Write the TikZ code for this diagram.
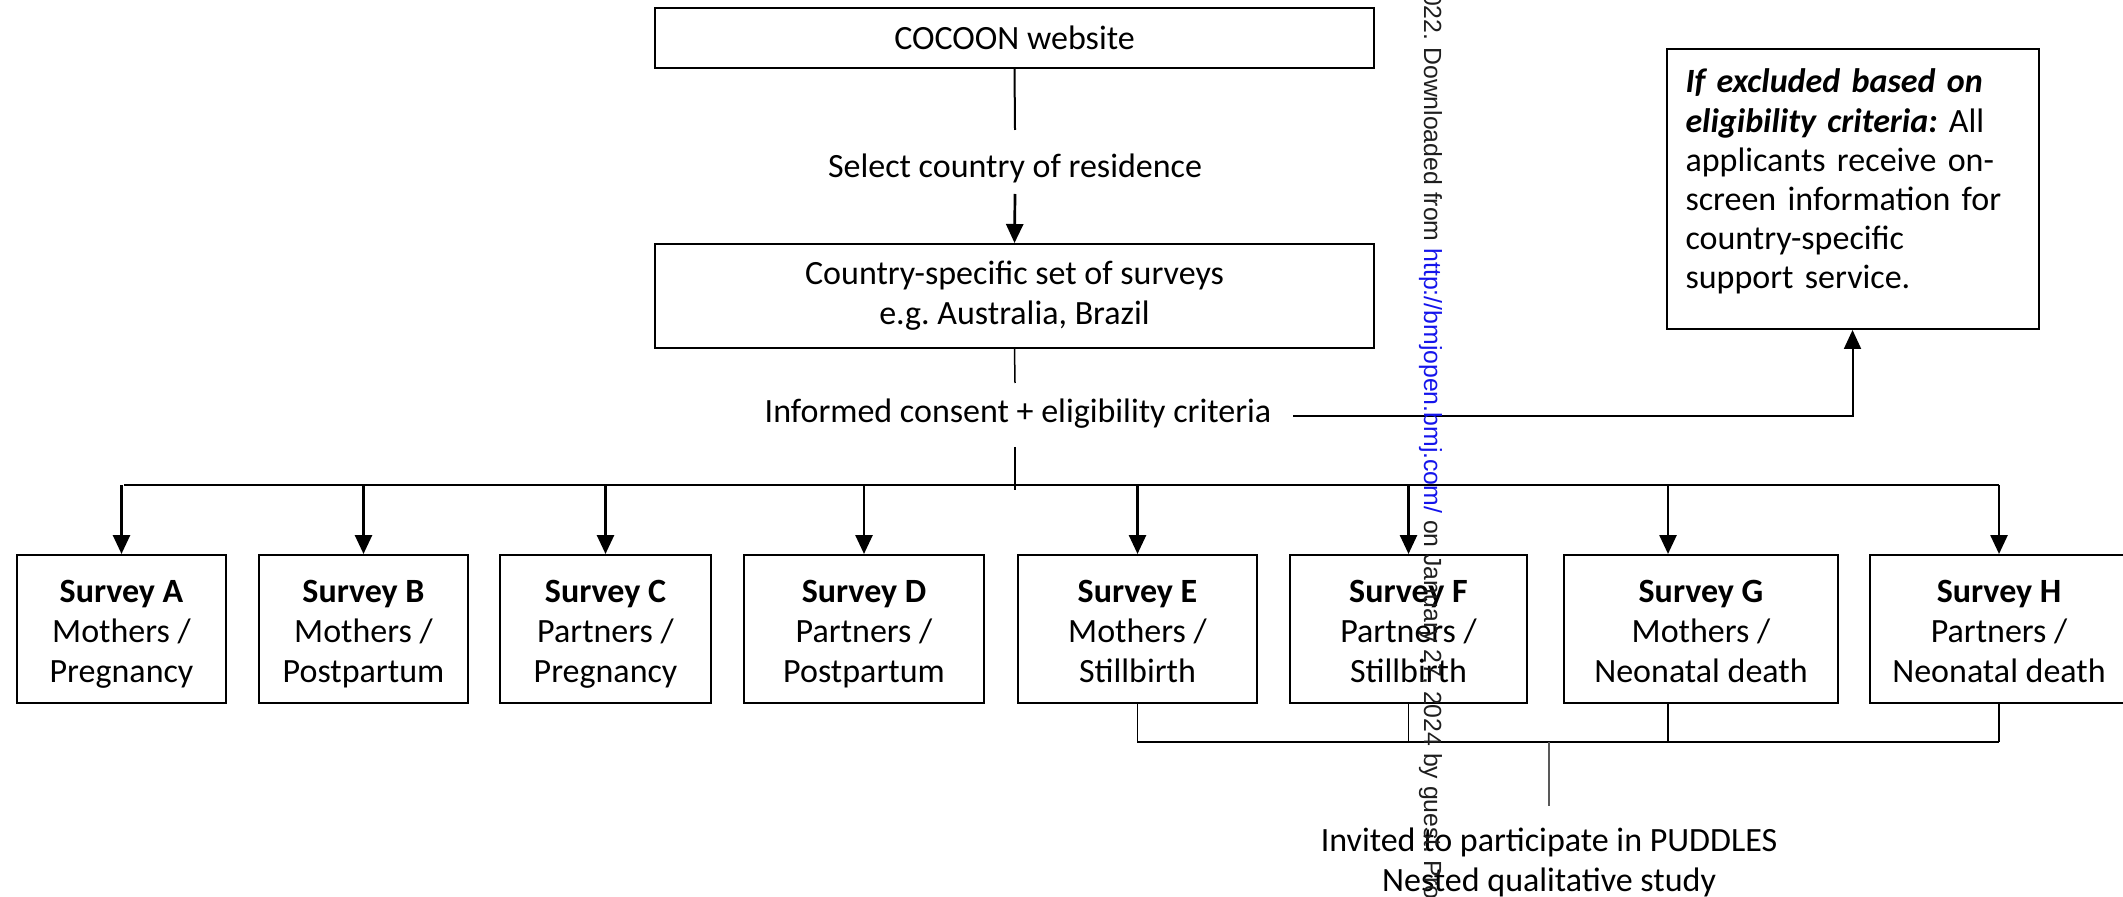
\documentclass[tikz,border=0pt]{standalone}
\usepackage{fontspec}
\setmainfont{Carlito}
\newfontfamily\wmfont{Liberation Sans}
\usetikzlibrary{arrows.meta}
\definecolor{urlblue}{RGB}{20,20,235}
\definecolor{wmgray}{RGB}{30,30,30}
\frenchspacing
\newcommand{\topstrut}{\rule{0pt}{19pt}}
\begin{document}
\begin{tikzpicture}[x=0.5pt,y=-0.5pt,
  font=\fontsize{17}{20}\selectfont,
  box/.style={draw, line width=1pt, inner sep=0pt, align=center},
  survbox/.style={box, minimum height=74pt},
  lbl/.style={inner sep=0pt, align=center},
  thinline/.style={line width=0.75pt},
  medline/.style={line width=1pt},
  tip/.style={-{Triangle[width=8.5pt,length=9.5pt]}},
  arr/.style={line width=1.35pt, tip},
  grayline/.style={line width=0.75pt, draw=black!65}]
\useasboundingbox (0,0) rectangle (2123,897);
\clip (0,0) rectangle (2123,897);

% top boxes
\node[box, minimum width=359.5pt, minimum height=30pt] (cocoon) at (1014.5,38) {COCOON website};
\node[lbl] (select) at (1015,168) {Select country of residence};
\node[box, minimum width=359.5pt, minimum height=52pt] (country) at (1014.5,296)
  {Country-specific set of surveys\\e.g. Australia, Brazil};
\node[lbl] (consent) at (1018,414) {Informed consent + eligibility criteria};
\node[box, minimum width=185.5pt, minimum height=140pt, text width=167pt, align=left, inner xsep=9.5pt,
  font=\fontsize{17}{19.6}\selectfont] (excl) at (1852.5,189)
  {\textbf{\textit{If excluded based on}}\\\textbf{\textit{eligibility criteria:}} All\\applicants receive on-\\screen information for\\country-specific\\support service.\rule[-10pt]{0pt}{10pt}};

% survey boxes
\node[survbox, minimum width=104.5pt] (A) at (121.5,629) {\textbf{Survey A}\topstrut\\Mothers /\strut\\Pregnancy\strut};
\node[survbox, minimum width=104.5pt] (B) at (363.5,629) {\textbf{Survey B}\topstrut\\Mothers /\strut\\Postpartum\strut};
\node[survbox, minimum width=105.5pt] (C) at (605.5,629) {\textbf{Survey C}\topstrut\\Partners /\strut\\Pregnancy\strut};
\node[survbox, minimum width=120pt] (D) at (864,629) {\textbf{Survey D}\topstrut\\Partners /\strut\\Postpartum\strut};
\node[survbox, minimum width=119.5pt] (E) at (1137.5,629) {\textbf{Survey E}\topstrut\\Mothers /\strut\\Stillbirth\strut};
\node[survbox, minimum width=118.5pt] (F) at (1408.5,629) {\textbf{Survey F}\topstrut\\Partners /\strut\\Stillbirth\strut};
\node[survbox, minimum width=137pt] (G) at (1701,629) {\textbf{Survey G}\topstrut\\Mothers /\strut\\Neonatal death\strut};
\node[survbox, minimum width=129pt] (H) at (1999,629) {\textbf{Survey H}\topstrut\\Partners /\strut\\Neonatal death\strut};

\node[lbl] (puddles) at (1549,862) {Invited to participate in PUDDLES\\Nested qualitative study};

% coordinates
\coordinate (s1) at (1015,130);
\coordinate (s2) at (1015,194);
\coordinate (c1) at (1015,383);
\coordinate (c2) at (1015,447);
\coordinate (c3) at (1015,490);
\coordinate (e1) at (1293,416);
\coordinate (hl) at (124,485);
\coordinate (hr) at (1999,485);
\coordinate (gx) at (1668,0);
\coordinate (bh) at (0,742);
\coordinate (pm) at (1549,742);
\coordinate (pe) at (1549,806);

% connectors
\draw[medline] (cocoon.south) -- (s1);
\draw[arr] (s2) -- (country.north);
\draw[thinline] (country.south) -- (c1);
\draw[thinline] (c2) -- (c3);
\draw[medline, tip] (e1) -| (excl.south);
\draw[thinline] (hl) -- (hr);
\foreach \n in {A,B,C,D,E,F,H}{
  \draw[arr] (\n.north |- hl) -- (\n.north);
}
\draw[arr] (gx |- hl) -- (gx |- G.north);
\draw[thinline] (E.south) -- (E.south |- bh) -- (H.south |- bh);
\draw[thinline] (F.south) -- (F.south |- bh);
\draw[thinline] (gx |- G.south) -- (gx |- bh);
\draw[thinline] (H.south) -- (H.south |- bh);
\draw[grayline] (pm) -- (pe);

% watermark
\node[rotate=-90, anchor=base west, inner sep=0pt, text=wmgray, font=\wmfont\fontsize{12.4}{15}\selectfont] (wm) at (1424,-22)
  {2022. Downloaded from \textcolor{urlblue}{http://bmjopen.bmj.com/} on January 27, 2024 by guest. Protected by copyright.};
\end{tikzpicture}
\end{document}
